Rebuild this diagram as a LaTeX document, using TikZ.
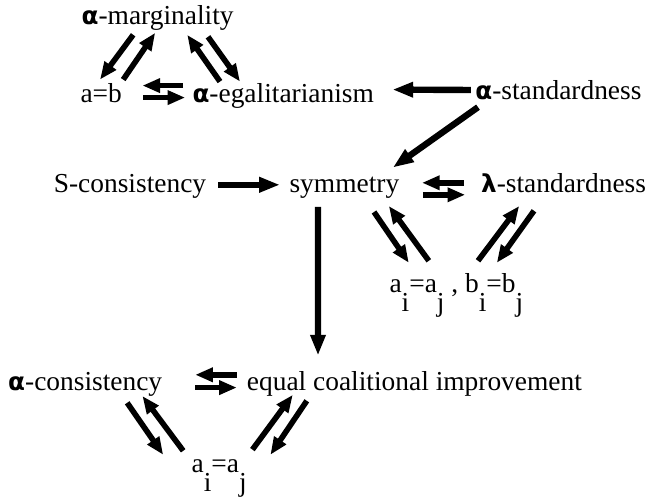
\documentclass[tikz,border=0pt]{standalone}
\usepackage{fontspec}
\setmainfont{Liberation Serif}
\newfontfamily\greekfont[Scale=0.9]{DejaVu Sans}
\usepackage{tikz}
\usetikzlibrary{arrows.meta}

\newcommand{\galpha}{{\greekfont\bfseries α}}
\newcommand{\glambda}{{\greekfont\bfseries λ}}
\newcommand{\lowsub}[1]{\raisebox{-0.7em}{#1}}

\begin{document}
\begin{tikzpicture}[
    every node/.style={inner sep=0pt, anchor=base, font=\fontsize{19.5}{23}\selectfont},
    imp/.style={-{Triangle[length=0.52cm, width=0.36cm]}, line width=0.16cm},
    pair/.style={-{Triangle[length=0.44cm, width=0.34cm]}, line width=0.14cm},
  ]

  \useasboundingbox (0,0) rectangle (16.225,12.45);

  \node (marg)  at (3.94, 11.83) {\galpha-marginality};
  \node (ab)    at (2.53, 9.88)  {a=b};
  \node (egal)  at (7.08, 9.88)  {\galpha-egalitarianism};
  \node (astd)  at (13.96, 9.95) {\galpha-standardness};
  \node (scons) at (3.25, 7.63)  {S-consistency};
  \node (sym)   at (8.61, 7.63)  {symmetry};
  \node (lstd)  at (14.09, 7.63) {\glambda-standardness};
  \node (aibi)  at (11.41, 5.13) {a\lowsub{i}=a\lowsub{j} , b\lowsub{i}=b\lowsub{j}};
  \node (acons) at (2.13, 2.68)  {\galpha-consistency};
  \node (eci)   at (10.36, 2.68) {equal coalitional improvement};
  \node (aiaj)  at (5.48, 0.63)  {a\lowsub{i}=a\lowsub{j}};

  \draw[pair] ([shift={(-0.61,-0.25)}]marg.base) -- ([shift={(-0.03,0.58)}]ab.base);
  \draw[pair] ([shift={(0.55,0.58)}]ab.base) -- ([shift={(-0.06,-0.2)}]marg.base);
  \draw[pair] ([shift={(-1.58,0.53)}]egal.base) -- ([shift={(0.74,-0.25)}]marg.base);
  \draw[pair] ([shift={(1.26,-0.3)}]marg.base) -- ([shift={(-1.08,0.53)}]egal.base);
  \draw[pair] ([shift={(-2.5,0.43)}]egal.base) -- ([shift={(1.03,0.43)}]ab.base);
  \draw[pair] ([shift={(1.05,0.13)}]ab.base) -- ([shift={(-2.45,0.13)}]egal.base);
  \draw[imp] ([shift={(-2.19,0.25)}]astd.base) -- ([shift={(2.73,0.33)}]egal.base);
  \draw[imp] ([shift={(-2.01,-0.18)}]astd.base) -- ([shift={(1.21,0.63)}]sym.base);
  \draw[imp] ([shift={(2.2,0.2)}]scons.base) -- ([shift={(-1.61,0.2)}]sym.base);
  \draw[pair] ([shift={(-2.49,0.25)}]lstd.base) -- ([shift={(1.94,0.25)}]sym.base);
  \draw[pair] ([shift={(1.96,-0.05)}]sym.base) -- ([shift={(-2.46,-0.05)}]lstd.base);
  \draw[imp] ([shift={(-0.66,-0.35)}]sym.base) -- ([shift={(-2.41,0.88)}]eci.base);
  \draw[pair] ([shift={(0.74,-0.48)}]sym.base) -- ([shift={(-1.19,0.75)}]aibi.base);
  \draw[pair] ([shift={(-0.69,0.8)}]aibi.base) -- ([shift={(1.11,-0.33)}]sym.base);
  \draw[pair] ([shift={(0.54,0.8)}]aibi.base) -- ([shift={(-1.11,-0.33)}]lstd.base);
  \draw[pair] ([shift={(-0.74,-0.45)}]lstd.base) -- ([shift={(1.01,0.75)}]aibi.base);
  \draw[pair] ([shift={(-4.44,0.4)}]eci.base) -- ([shift={(2.75,0.4)}]acons.base);
  \draw[pair] ([shift={(2.75,0.08)}]acons.base) -- ([shift={(-4.44,0.08)}]eci.base);
  \draw[pair] ([shift={(1.05,-0.3)}]acons.base) -- ([shift={(-1.4,0.45)}]aiaj.base);
  \draw[pair] ([shift={(-0.9,0.55)}]aiaj.base) -- ([shift={(1.43,-0.13)}]acons.base);
  \draw[pair] ([shift={(0.83,0.58)}]aiaj.base) -- ([shift={(-3.04,-0.1)}]eci.base);
  \draw[pair] ([shift={(-2.69,-0.25)}]eci.base) -- ([shift={(1.28,0.45)}]aiaj.base);

\end{tikzpicture}
\end{document}
